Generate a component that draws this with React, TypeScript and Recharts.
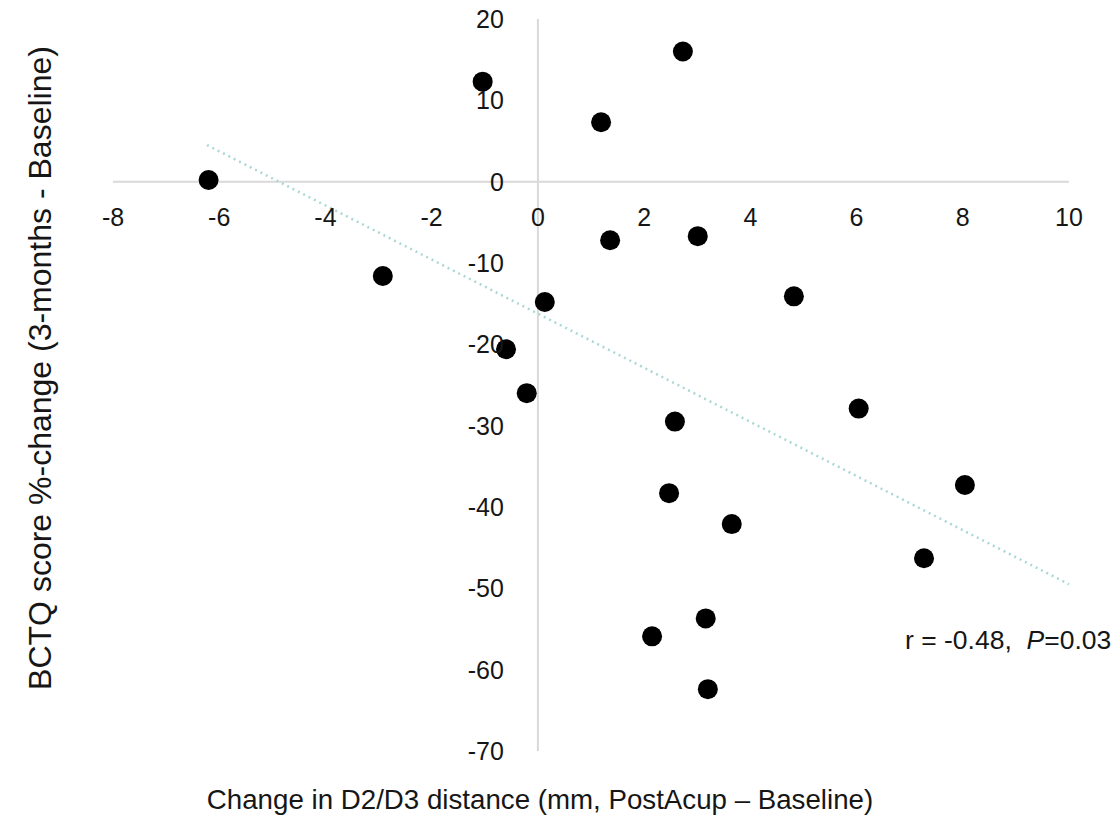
import React from 'react';
import { ScatterChart, Scatter, XAxis, YAxis, ReferenceLine } from 'recharts';

// change in D2/D3 distance (mm) and BCTQ %-change, one entry per subject
const distanceChange = [
  -6.2, -1.04, 2.73, 1.19, -2.92, 1.36, 3.01, 0.13, 4.82, -0.6,
  -0.21, 6.04, 2.58, 2.47, 8.04, 3.65, 7.27, 3.16, 2.15, 3.2,
];
const bctqChange = [
  0.2, 12.3, 16.0, 7.3, -11.6, -7.2, -6.7, -14.8, -14.1, -20.6,
  -26.0, -27.9, -29.5, -38.3, -37.3, -42.1, -46.3, -53.7, -55.9, -62.4,
];
const xTicks = [-8, -6, -4, -2, 0, 2, 4, 6, 8, 10];
const yTicks = [20, 10, 0, -10, -20, -30, -40, -50, -60, -70];
// trend line end points
const trendStart = { x: -6.23, y: 4.5 };
const trendEnd = { x: 10, y: -49.5 };

const points = distanceChange.map((x, i) => ({ x, y: bctqChange[i] }));

const W = 1119;
const H = 822;
const AXIS_SIZE = 30;
const plotBox = { top: 19, right: 50, bottom: 71, left: 113 };
const margin = {
  top: plotBox.top,
  right: plotBox.right,
  bottom: plotBox.bottom - AXIS_SIZE,
  left: plotBox.left - AXIS_SIZE,
};
const X_DOMAIN: [number, number] = [-8, 10];
const Y_DOMAIN: [number, number] = [-70, 20];

const plotW = W - plotBox.left - plotBox.right;
const plotH = H - plotBox.top - plotBox.bottom;
const zeroX = plotBox.left + ((0 - X_DOMAIN[0]) / (X_DOMAIN[1] - X_DOMAIN[0])) * plotW;
const zeroY = plotBox.top + ((Y_DOMAIN[1] - 0) / (Y_DOMAIN[1] - Y_DOMAIN[0])) * plotH;

const FONT = '"Liberation Sans", Arial, sans-serif';
const INK = '#161616';

const renderXTick = (props: any) => (
  <text key={`xt-${props.payload.value}`} x={props.x} y={zeroY + 35} textAnchor="middle"
    dominantBaseline="central" fontFamily={FONT} fontSize={25} fill={INK}>
    {props.payload.value}
  </text>
);

const renderYTick = (props: any) => (
  <text key={`yt-${props.payload.value}`} x={zeroX - 34} y={props.y} textAnchor="end"
    dominantBaseline="central" fontFamily={FONT} fontSize={25} fill={INK}>
    {props.payload.value}
  </text>
);

const Dot = (props: any) => <circle cx={props.cx} cy={props.cy} r={10} fill="#000" />;

export default function App() {
  return (
    <div style={{ position: 'relative', width: W, height: H, background: '#fff', fontFamily: FONT }}>
      <style>{'body{margin:0}'}</style>
      <ScatterChart width={W} height={H} margin={margin}>
        <XAxis type="number" dataKey="x" domain={X_DOMAIN} ticks={xTicks} interval={0}
          axisLine={false} tickLine={false} height={AXIS_SIZE} tick={renderXTick} />
        <YAxis type="number" dataKey="y" domain={Y_DOMAIN} ticks={yTicks} interval={0}
          axisLine={false} tickLine={false} width={AXIS_SIZE} tick={renderYTick} />
        <ReferenceLine y={0} stroke="#d9d9d9" strokeWidth={2} />
        <ReferenceLine x={0} stroke="#d9d9d9" strokeWidth={2} />
        <ReferenceLine segment={[trendStart, trendEnd]} stroke="#a9d8d6" strokeWidth={2.5}
          strokeDasharray="2 4" />
        <Scatter data={points} shape={<Dot />} isAnimationActive={false} />
      </ScatterChart>
      <div style={{ position: 'absolute', left: 0, width: 1080, top: 780, textAlign: 'center',
        fontSize: 27.7, color: INK, lineHeight: '40px' }}>
        Change in D2/D3 distance (mm, PostAcup – Baseline)
      </div>
      <div style={{ position: 'absolute', left: 40, top: 368, width: 0, height: 0 }}>
        <div style={{ position: 'absolute', transform: 'translate(-50%, -50%) rotate(-90deg)',
          whiteSpace: 'nowrap', fontSize: 32, color: INK }}>
          BCTQ score %-change (3-months - Baseline)
        </div>
      </div>
      <div style={{ position: 'absolute', left: 905, top: 624, fontSize: 26.5, color: INK,
        whiteSpace: 'pre', lineHeight: '32px' }}>
        r = -0.48,  <i>P</i>=0.03
      </div>
    </div>
  );
}
